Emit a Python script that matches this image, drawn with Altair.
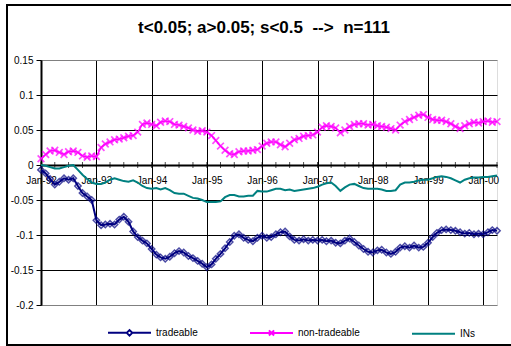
import altair as alt
import pandas as pd

# ---- data -------------------------------------------------------------
months = pd.date_range("1992-01-01", periods=100, freq="MS").strftime("%Y-%m-%dT00:00:00").tolist()
quarters = pd.date_range("1992-01-01", "2000-04-01", freq="QS").strftime("%Y-%m-%dT00:00:00").tolist()

tradeable = [
    -0.007, -0.012, -0.020, -0.028, -0.024, -0.019, -0.021, -0.019, -0.030, -0.040, -0.045, -0.050,
    -0.079, -0.086, -0.085, -0.084, -0.085, -0.078, -0.074, -0.081, -0.095, -0.103, -0.108, -0.112,
    -0.120, -0.128, -0.132, -0.134, -0.131, -0.126, -0.123, -0.125, -0.130, -0.133, -0.137, -0.141,
    -0.146, -0.142, -0.134, -0.127, -0.119, -0.110, -0.101, -0.099, -0.104, -0.107, -0.109, -0.104,
    -0.101, -0.104, -0.103, -0.099, -0.096, -0.095, -0.102, -0.107, -0.108, -0.106, -0.108, -0.107,
    -0.108, -0.107, -0.109, -0.108, -0.111, -0.112, -0.108, -0.105, -0.110, -0.115, -0.120, -0.124,
    -0.125, -0.122, -0.121, -0.125, -0.127, -0.124, -0.118, -0.116, -0.118, -0.115, -0.118, -0.117,
    -0.111, -0.103, -0.097, -0.093, -0.092, -0.093, -0.094, -0.096, -0.098, -0.097, -0.099, -0.098,
    -0.099, -0.096, -0.093, -0.094,
]
non_tradeable = [
    0.009, 0.015, 0.020, 0.021, 0.018, 0.015, 0.019, 0.020, 0.018, 0.013, 0.011, 0.013,
    0.012, 0.025, 0.030, 0.033, 0.036, 0.037, 0.039, 0.041, 0.042, 0.047, 0.058, 0.060,
    0.058, 0.056, 0.061, 0.063, 0.062, 0.058, 0.057, 0.055, 0.053, 0.050, 0.048, 0.049,
    0.047, 0.042, 0.035, 0.027, 0.021, 0.016, 0.015, 0.019, 0.020, 0.020, 0.021, 0.022,
    0.027, 0.031, 0.033, 0.033, 0.029, 0.026, 0.031, 0.036, 0.038, 0.041, 0.042, 0.043,
    0.047, 0.054, 0.056, 0.055, 0.053, 0.046, 0.050, 0.055, 0.058, 0.059, 0.059, 0.057,
    0.058, 0.056, 0.055, 0.054, 0.052, 0.050, 0.057, 0.062, 0.065, 0.068, 0.071, 0.072,
    0.068, 0.065, 0.064, 0.064, 0.062, 0.059, 0.055, 0.052, 0.056, 0.059, 0.061, 0.060,
    0.062, 0.063, 0.061, 0.062,
]
ins = [
    0.000, -0.001, -0.003, -0.005, -0.005, -0.003, -0.001, 0.000, -0.007, -0.014, -0.020, -0.025,
    -0.027, -0.027, -0.025, -0.021, -0.019, -0.021, -0.023, -0.024, -0.022, -0.025, -0.030, -0.033,
    -0.034, -0.033, -0.035, -0.033, -0.036, -0.040, -0.041, -0.041, -0.044, -0.047, -0.048, -0.050,
    -0.053, -0.053, -0.053, -0.052, -0.046, -0.043, -0.043, -0.045, -0.045, -0.044, -0.044, -0.037,
    -0.038, -0.038, -0.036, -0.034, -0.034, -0.036, -0.035, -0.037, -0.036, -0.035, -0.034, -0.033,
    -0.031, -0.028, -0.026, -0.025, -0.030, -0.037, -0.032, -0.028, -0.027, -0.030, -0.033, -0.034,
    -0.034, -0.034, -0.035, -0.037, -0.037, -0.036, -0.028, -0.025, -0.025, -0.024, -0.022, -0.021,
    -0.021, -0.019, -0.017, -0.016, -0.017, -0.019, -0.022, -0.025, -0.021, -0.019, -0.018, -0.018,
    -0.017, -0.017, -0.016, -0.015,
]

series_names = ["tradeable", "non-tradeable", "INs"]
series_colors = ["#000080", "#FF00FF", "#008080"]
series_widths = [2, 1.5, 2]
legend_shapes = [
    "M-1,0L-0.13,0M0.13,0L1,0M-0.13,0L0,-0.13L0.13,0L0,0.13Z",
    "M-1,0L1,0M-0.12,-0.12L0.12,0.12M0.12,-0.12L-0.12,0.12",
    "M-1,0L1,0",
]
y_ticks = [-0.2, -0.15, -0.1, -0.05, 0, 0.05, 0.1, 0.15]
year_ticks = list(range(1992, 2001))

rows = []
for name, vals in zip(series_names, [tradeable, non_tradeable, ins]):
    for d, v in zip(months, vals):
        rows.append({"date": d, "value": v, "series": name})
df = pd.DataFrame(rows)
tick_df = pd.DataFrame({"date": quarters, "value": [0] * len(quarters)})
legend_df = pd.DataFrame({"series": series_names})

FONT = "Liberation Sans"
W, H = 456, 245
zero_px = H * (0 - y_ticks[0]) / (y_ticks[-1] - y_ticks[0])

x_scale = alt.Scale(domain=[alt.DateTime(year=1992, month=1, date=1),
                            alt.DateTime(year=2000, month=4, date=1)], nice=False)
y_scale = alt.Scale(domain=[y_ticks[0], y_ticks[-1]], nice=False, zero=False)

x_axis = alt.Axis(
    values=[alt.DateTime(year=y, month=1, date=1) for y in year_ticks],
    format="%b-%y", title=None, offset=-zero_px,
    grid=True, gridColor="black", gridWidth=1,
    domainColor="black", domainWidth=2, tickColor="black", tickSize=3, tickWidth=1,
    labelFont=FONT, labelFontSize=10, labelColor="black", labelPadding=7,
    labelFlush=False, labelOverlap=False,
)
y_axis = alt.Axis(
    values=y_ticks, labelExpr="'' + datum.value", title=None,
    grid=True,
    gridColor={"condition": {"test": "datum.value <= -0.2 || datum.value >= 0.15", "value": "#808080"},
               "value": "black"},
    gridWidth=1, labelOverlap=False,
    domainColor="black", domainWidth=2, tickColor="black", tickSize=5, tickWidth=1,
    labelFont=FONT, labelFontSize=10, labelColor="black", labelPadding=3,
)

x_enc = alt.X("date:T", scale=x_scale, axis=x_axis)
y_enc = alt.Y("value:Q", scale=y_scale, axis=y_axis)

frame = alt.Chart(alt.Data(values=[{"k": 1}])).mark_rect(
    fillOpacity=0, stroke="black", strokeWidth=2
).encode(x=alt.value(-34), y=alt.value(-55), x2=alt.value(W + 30), y2=alt.value(H + 40))

minor_ticks = alt.Chart(tick_df).mark_tick(orient="vertical", size=6, thickness=1, color="black").encode(
    x=x_enc, y=y_enc
)

line_layers = []
for name, col, w in zip(series_names, series_colors, series_widths):
    line_layers.append(
        alt.Chart(df).transform_filter(alt.datum.series == name)
        .mark_line(color=col, strokeWidth=w)
        .encode(x=x_enc, y=y_enc)
    )

pts_trade = alt.Chart(df).transform_filter(alt.datum.series == "tradeable").mark_point(
    shape="diamond", filled=False, size=40, strokeWidth=1.5, color=series_colors[0]
).encode(x=x_enc, y=y_enc)

pts_non = alt.Chart(df).transform_filter(alt.datum.series == "non-tradeable").mark_point(
    shape="M-1,-1L1,1M1,-1L-1,1", filled=False, size=45, strokeWidth=1.7, color=series_colors[1]
).encode(x=x_enc, y=y_enc)

leg = alt.Legend(
    title=None, orient="none", legendX=66, legendY=250, direction="horizontal",
    symbolSize=1849, symbolStrokeWidth=2, symbolOpacity=1,
    labelFont=FONT, labelFontSize=10, labelColor="black", labelOffset=4,
    columnPadding=48, padding=0,
)
legend_layer = alt.Chart(legend_df).mark_point(opacity=0, filled=False).encode(
    stroke=alt.Stroke("series:N", scale=alt.Scale(domain=series_names, range=series_colors), legend=leg),
    shape=alt.Shape("series:N", scale=alt.Scale(domain=series_names, range=legend_shapes), legend=leg),
)

chart = alt.layer(frame, minor_ticks, *line_layers, pts_trade, pts_non, legend_layer).properties(
    width=W, height=H,
    title=alt.TitleParams(
        text="t<0.05; a>0.05; s<0.5\u00a0 -->\u00a0 n=111",
        font=FONT, fontSize=17, fontWeight="bold", color="black",
        anchor="middle", offset=-33, dx=-5,
    ),
    autosize=alt.AutoSizeParams(type="none"),
    padding={"left": 41, "top": 60, "right": 14, "bottom": 41},
).configure_view(stroke="#808080", strokeWidth=2).configure(background="white")

chart.save("out.html", embed_options={"renderer": "svg", "actions": False})
